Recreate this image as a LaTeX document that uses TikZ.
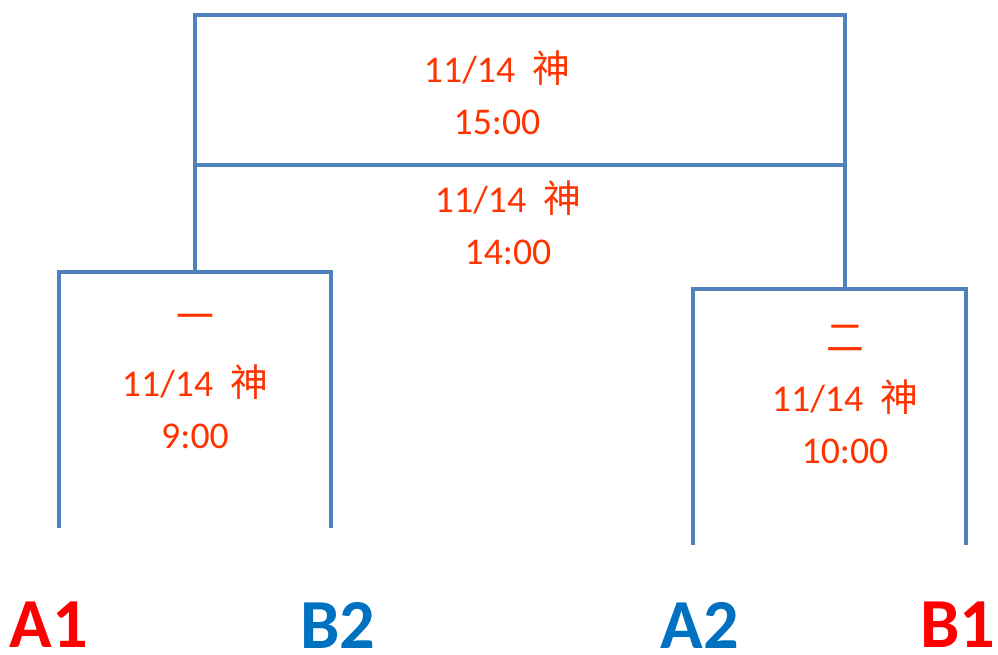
\documentclass[tikz,border=0pt]{standalone}
\usepackage{fontspec}
\setmainfont{Carlito}
\newfontfamily\cjk{Noto Sans CJK TC}
\usetikzlibrary{positioning}

\definecolor{bracketblue}{RGB}{79,129,189}
\definecolor{timered}{RGB}{255,51,0}
\definecolor{teamred}{RGB}{255,0,0}
\definecolor{teamblue}{RGB}{0,112,192}

\begin{document}
\begin{tikzpicture}[x=0.02cm,y=-0.02cm]
        \tikzstyle{every path}=[line width=2.8pt]
        \tikzstyle{bracket}=[draw=bracketblue]
        \tikzstyle{info}=[text=timered,font=\fontsize{21.5}{24}\selectfont,inner sep=0pt]
        \tikzstyle{team}=[font=\fontsize{40}{42}\selectfont\bfseries,inner sep=0pt]

        \useasboundingbox (0,0) rectangle (998,654);

        % corners of the final box
        \coordinate (ftl) at (195,15);
        \coordinate (ftr) at (845,15);
        \coordinate (fml) at (195,165);
        \coordinate (fmr) at (845,165);
        \coordinate (fbl) at (195,270);
        \coordinate (fbr) at (845,287);

        % corners of match one
        \coordinate (atl) at (59,272);
        \coordinate (atr) at (331,272);
        \coordinate (abl) at (59,528);
        \coordinate (abr) at (331,528);

        % corners of match two
        \coordinate (btl) at (693,289);
        \coordinate (btr) at (966,289);
        \coordinate (bbl) at (693,545);
        \coordinate (bbr) at (966,545);

        \draw[bracket] (fbl) -- (ftl) -- (ftr) -- (fbr);
        \draw[bracket] (fml) -- (fmr);
        \draw[bracket] (abl) -- (atl) -- (atr) -- (abr);
        \draw[bracket] (bbl) -- (btl) -- (btr) -- (bbr);

        % final
        \node[info] at (497,68) (fdate) {11/14\ \ {\cjk 神}};
        \node[info] at (497,122) (ftime) {15:00};

        % third place
        \node[info] at (508,198) (tdate) {11/14\ \ {\cjk 神}};
        \node[info] at (508,252) (ttime) {14:00};

        % match one
        \node[info] at (195,322) (aname) {\cjk 一};
        \node[info] at (195,382) (adate) {11/14\ \ {\cjk 神}};
        \node[info] at (195,436) (atime) {9:00};

        % match two
        \node[info] at (845,338) (bname) {\cjk 二};
        \node[info] at (845,397) (bdate) {11/14\ \ {\cjk 神}};
        \node[info] at (845,451) (btime) {10:00};

        % teams
        \node[team,text=teamred] at (49,625) (A1) {A1};
        \node[team,text=teamblue] at (338,625) (B2) {B2};
        \node[team,text=teamblue] at (700,625) (A2) {A2};
        \node[team,text=teamred] at (958,625) (B1) {B1};
\end{tikzpicture}
\end{document}
